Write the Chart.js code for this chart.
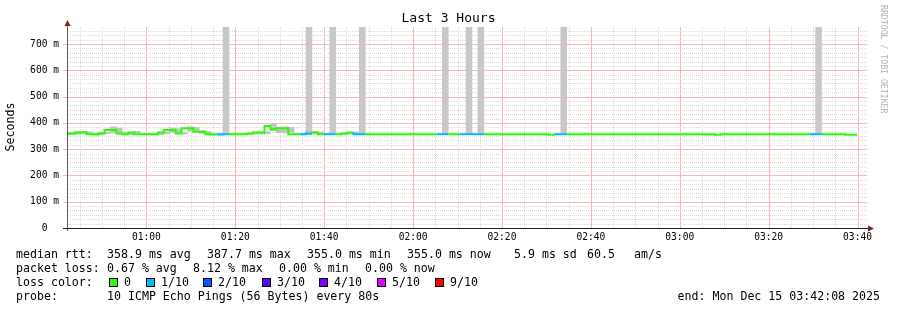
<!DOCTYPE html>
<html>
<head>
<meta charset="utf-8">
<script src="https://cdn.jsdelivr.net/npm/chart.js@4.4.0/dist/chart.umd.min.js"></script>
<style>
  html, body { margin: 0; padding: 0; background: #fff; }
  canvas { display: block; }
</style>
</head>
<body>
<canvas id="graph" width="897" height="310"></canvas>
<script>
//------------ Data ----------//

// graph starts at 00:42:08, one sample every 80 s
var startTime = "00:42:08";
var stepSeconds = 80;
var firstStepOffset = -0.67;   // first sample begins a bit before the graph start

// median rtt per step (ms)
var median = [
  357, 357, 360, 363, 363, 357, 356, 361, 373, 373,
  360, 357, 363, 357, 357, 357, 357, 363, 373, 373,
  360, 380, 380, 366, 366, 357, 356, 356, 357, 357,
  357, 357, 360, 363, 363, 388, 376, 380, 380, 357,
  357, 357, 360, 364, 357, 357, 357, 357, 360, 363,
  357, 357, 357, 357, 357, 357, 357, 357, 357, 357,
  357, 357, 357, 357, 357, 357, 357, 357, 357, 357,
  357, 357, 357, 357, 357, 357, 357, 357, 357, 357,
  357, 357, 357, 354.5, 357, 357, 357, 357, 357, 357,
  357, 357, 357, 357, 357, 357, 357, 357, 357, 357,
  357, 357, 357, 357, 357, 357, 357, 357, 357, 357,
  357, 354.5, 357, 357, 357, 357, 357, 357, 357, 357,
  357, 357, 357, 357, 357, 357, 357, 357, 357, 357,
  357, 357, 357, 355, null, null
];

// lost pings per step (out of 10)
var loss = [
  0, 0, 0, 0, 0, 0, 0, 0, 0, 0,
  0, 0, 0, 0, 0, 0, 0, 0, 0, 0,
  0, 0, 0, 0, 0, 0, 1, 1, 0, 0,
  0, 0, 0, 0, 0, 0, 0, 0, 0, 0,
  1, 1, 0, 0, 1, 1, 0, 0, 0, 1,
  1, 0, 0, 0, 0, 0, 0, 0, 0, 0,
  0, 0, 0, 1, 1, 0, 0, 1, 1, 1,
  1, 0, 0, 0, 0, 0, 0, 0, 0, 0,
  0, 0, 0, 1, 1, 0, 0, 0, 0, 0,
  0, 0, 0, 0, 0, 0, 0, 0, 0, 0,
  0, 0, 0, 0, 0, 0, 0, 0, 0, 0,
  0, 0, 0, 0, 0, 0, 0, 0, 0, 0,
  0, 0, 0, 0, 0, 0, 1, 1, 0, 0,
  0, 0, 0, 0, 0, 0
];

// smoke (min / max of the pings) for the busy first part
var smokeLo = [
  355, 355, 357, 360, 358, 355, 355, 358, 362, 362,
  357, 355, 358, 355, 355, 355, 355, 358, 364, 362,
  357, 368, 366, 360, 358, 355, 355, 355, 355, 355,
  355, 355, 357, 358, 358, 370, 363, 362, 364, 355,
  355, 355, 357, 358, 355, 355, 355, 355, 357, 358,
  355
];
var smokeHi = [
  365, 364, 366, 368, 366, 360, 358, 364, 385, 380,
  364, 360, 368, 359, 358, 359, 362, 366, 380, 378,
  363, 385, 383, 370, 368, 360, 360, 358, 358, 358,
  360, 357, 365, 366, 367, 395, 384, 385, 383, 358,
  358, 358, 362, 365, 358, 358, 358, 358, 363, 366,
  358
];

// steps where the smoke runs off the top of the graph
var spikeSteps = [27, 41, 45, 50, 64, 68, 70, 84, 127];

var lossColors = ["#26ff00", "#00b8ff", "#0059ff", "#5e00ff", "#7e00ff", "#dd00ff", "#ff0000"];
var lossLabels = ["0", "1/10", "2/10", "3/10", "4/10", "5/10", "9/10"];

var xTickLabels = ["01:00", "01:20", "01:40", "02:00", "02:20", "02:40", "03:00", "03:20", "03:40"];
var yTickValues = [0, 100, 200, 300, 400, 500, 600, 700];
var yTickLabels = ["0  ", "100 m", "200 m", "300 m", "400 m", "500 m", "600 m", "700 m"];

var yMax = 765;
var xMax = 180;   // 3 hours in minutes
var yMinorStep = 100 / 6;
var xMinorStep = 5;

//------------ Helpers ----------//

function toMinutes(hhmm) {
  var p = hhmm.split(":");
  var s = startTime.split(":");
  var start = (+s[0]) * 60 + (+s[1]) + (+s[2]) / 60;
  return (+p[0]) * 60 + (+p[1]) - start;
}

function stepStart(i) {
  return (i + firstStepOffset) * stepSeconds / 60;
}

function stepMid(i) {
  return stepStart(i) + stepSeconds / 120;
}

function lossIndex(l) {
  if (l >= 9) return 6;
  if (l > 5) return 5;
  return l;
}

//------------ Build datasets ----------//

var linePts = [];
for (var i = 0; i < median.length; i++) {
  if (median[i] == null) break;
  linePts.push({ x: stepStart(i), y: median[i] });
}
linePts.push({ x: stepStart(linePts.length), y: median[linePts.length - 1] });

var smokeBars = [];
for (i = 0; i < smokeLo.length; i++) {
  smokeBars.push({ x: stepMid(i), y: [smokeLo[i], smokeHi[i]] });
}

var spikeBars = [];
for (i = 0; i < spikeSteps.length; i++) {
  var s = spikeSteps[i];
  spikeBars.push({ x: stepMid(s), y: [median[s], yMax] });
}

//------------ Grid (rrdtool style) ----------//

var FONT = "'DejaVu Sans Mono', monospace";
var GRID_MINOR = "#dadada";
var GRID_MAJOR = "#f6b8b8";

var rrdGrid = {
  id: "rrdGrid",
  beforeDatasetsDraw: function (chart) {
    var c = chart.ctx;
    var a = chart.chartArea;
    var xs = chart.scales.x, ys = chart.scales.y;
    var first = toMinutes(xTickLabels[0]);
    var m, k, px, py, x, y, big;
    c.save();

    // vertical lines, minor every 5 min (dotted), major on the labelled times
    for (k = Math.ceil(-first / xMinorStep); first + k * xMinorStep <= xMax; k++) {
      m = first + k * xMinorStep;
      big = (k % 4 === 0);
      px = Math.round(xs.getPixelForValue(m));
      if (big) {
        c.fillStyle = GRID_MAJOR;
        c.fillRect(px, Math.round(a.top), 1, Math.round(a.bottom - a.top));
      } else {
        c.fillStyle = GRID_MINOR;
        for (y = Math.round(a.top); y < a.bottom; y += 2) c.fillRect(px, y, 1, 1);
      }
    }

    // horizontal lines
    for (k = 1; k * yMinorStep < yMax; k++) {
      big = (k % 6 === 0);
      py = Math.round(ys.getPixelForValue(k * yMinorStep));
      if (big) {
        c.fillStyle = GRID_MAJOR;
        c.fillRect(Math.round(a.left) - 4, py, Math.round(a.right - a.left) + 4, 1);
      } else {
        c.fillStyle = GRID_MINOR;
        for (x = Math.round(a.left) + 1; x < a.right; x += 2) c.fillRect(x, py, 1, 1);
      }
    }
    c.restore();
  }
};

//------------ Decorations (axes, arrows, texts) ----------//

var rrdDecor = {
  id: "rrdDecor",
  afterDraw: function (chart) {
    var c = chart.ctx;
    var a = chart.chartArea;
    c.save();

    // axes
    c.lineWidth = 1;
    c.strokeStyle = "#5a5a5a";
    c.beginPath();
    c.moveTo(a.left + 0.5, a.top - 5);
    c.lineTo(a.left + 0.5, a.bottom + 3);
    c.stroke();
    c.strokeStyle = "#1f1f1f";
    c.beginPath();
    c.moveTo(a.left - 4, a.bottom + 0.5);
    c.lineTo(a.right + 2, a.bottom + 0.5);
    c.stroke();

    // arrows
    c.fillStyle = "#801f1f";
    c.beginPath();
    c.moveTo(a.left - 2.5, a.top - 1);
    c.lineTo(a.left + 3.5, a.top - 1);
    c.lineTo(a.left + 0.5, a.top - 7);
    c.closePath();
    c.fill();
    c.beginPath();
    c.moveTo(a.right + 1, a.bottom - 2.5);
    c.lineTo(a.right + 1, a.bottom + 3.5);
    c.lineTo(a.right + 7, a.bottom + 0.5);
    c.closePath();
    c.fill();

    // title
    c.fillStyle = "#000";
    c.font = "13px " + FONT;
    c.textAlign = "center";
    c.textBaseline = "middle";
    c.fillText("Last 3 Hours", 448.5, 19);

    // vertical label
    c.save();
    c.translate(11, 127);
    c.rotate(-Math.PI / 2);
    c.font = "11.6px " + FONT;
    c.fillText("Seconds", 0, 0);
    c.restore();

    // rrdtool credit
    c.save();
    c.translate(883, 5);
    c.rotate(Math.PI / 2);
    c.font = "8.2px " + FONT;
    c.fillStyle = "#b4b4b4";
    c.textAlign = "left";
    c.textBaseline = "middle";
    c.fillText("RRDTOOL / TOBI OETIKER", 0, 0);
    c.restore();

    // legend
    c.font = "11.6px " + FONT;
    c.textAlign = "left";
    c.textBaseline = "alphabetic";
    c.fillStyle = "#000";

    var rows = [
      [258, [[16, "median rtt:"], [107, "358.9 ms avg"], [207, "387.7 ms max"], [307, "355.0 ms min"],
             [407, "355.0 ms now"], [514, "5.9 ms sd"], [587, "60.5"], [634, "am/s"]]],
      [272, [[16, "packet loss:"], [107, "0.67 % avg"], [193, "8.12 % max"], [279, "0.00 % min"], [365, "0.00 % now"]]],
      [286, [[16, "loss color:"]]],
      [300, [[16, "probe:"], [107, "10 ICMP Echo Pings (56 Bytes) every 80s"]]]
    ];
    rows.forEach(function (r) {
      r[1].forEach(function (t) { c.fillText(t[1], t[0], r[0]); });
    });

    var boxX = [109, 146, 203, 262, 319, 377, 435];
    for (var k = 0; k < lossColors.length; k++) {
      c.fillStyle = lossColors[k];
      c.fillRect(boxX[k], 278, 8, 8);
      c.strokeStyle = "#000";
      c.strokeRect(boxX[k] + 0.5, 278.5, 8, 8);
      c.fillStyle = "#000";
      c.fillText(lossLabels[k], boxX[k] + 15, 286);
    }

    c.textAlign = "right";
    c.fillText("end: Mon Dec 15 03:42:08 2025", 880, 300);

    c.restore();
  }
};

//------------ Chart ----------//

var graph = new Chart(document.getElementById("graph"), {
  type: "line",
  data: {
    datasets: [
      {
        type: "line",
        data: linePts,
        stepped: "after",
        borderWidth: 2,
        pointRadius: 0,
        fill: false,
        borderColor: lossColors[0],
        segment: {
          borderColor: function (ctx) { return lossColors[lossIndex(loss[ctx.p0DataIndex])]; }
        }
      },
      {
        type: "bar",
        data: smokeBars,
        backgroundColor: "#c4c4c4",
        borderWidth: 0,
        grouped: false,
        barPercentage: 1,
        categoryPercentage: 1
      },
      {
        type: "bar",
        data: spikeBars,
        backgroundColor: "#c8c8c8",
        borderWidth: 0,
        grouped: false,
        barPercentage: 1,
        categoryPercentage: 1
      }
    ]
  },
  options: {
    responsive: false,
    animation: false,
    devicePixelRatio: 1,
    layout: { padding: { left: 0, right: 30, top: 27, bottom: 0 } },
    plugins: { legend: { display: false }, tooltip: { enabled: false }, title: { display: false } },
    scales: {
      x: {
        type: "linear",
        min: 0,
        max: xMax,
        offset: false,
        afterFit: function (s) { s.height = 82; },
        afterBuildTicks: function (s) {
          s.ticks = xTickLabels.map(function (l) { return { value: toMinutes(l) }; });
        },
        ticks: {
          autoSkip: false,
          maxRotation: 0,
          padding: 4,
          color: "#000",
          font: { family: FONT, size: 9.6 },
          callback: function (v, i) { return xTickLabels[i]; }
        },
        grid: { display: false, drawTicks: false },
        border: { display: false }
      },
      y: {
        type: "linear",
        min: 0,
        max: yMax,
        afterFit: function (s) { s.width = 67; },
        afterBuildTicks: function (s) {
          s.ticks = yTickValues.map(function (v) { return { value: v }; });
        },
        ticks: {
          autoSkip: false,
          padding: 8,
          color: "#000",
          font: { family: FONT, size: 9.6 },
          callback: function (v, i) { return yTickLabels[i]; }
        },
        grid: { display: false, drawTicks: false },
        border: { display: false }
      }
    }
  },
  plugins: [rrdGrid, rrdDecor]
});
</script>
</body>
</html>
